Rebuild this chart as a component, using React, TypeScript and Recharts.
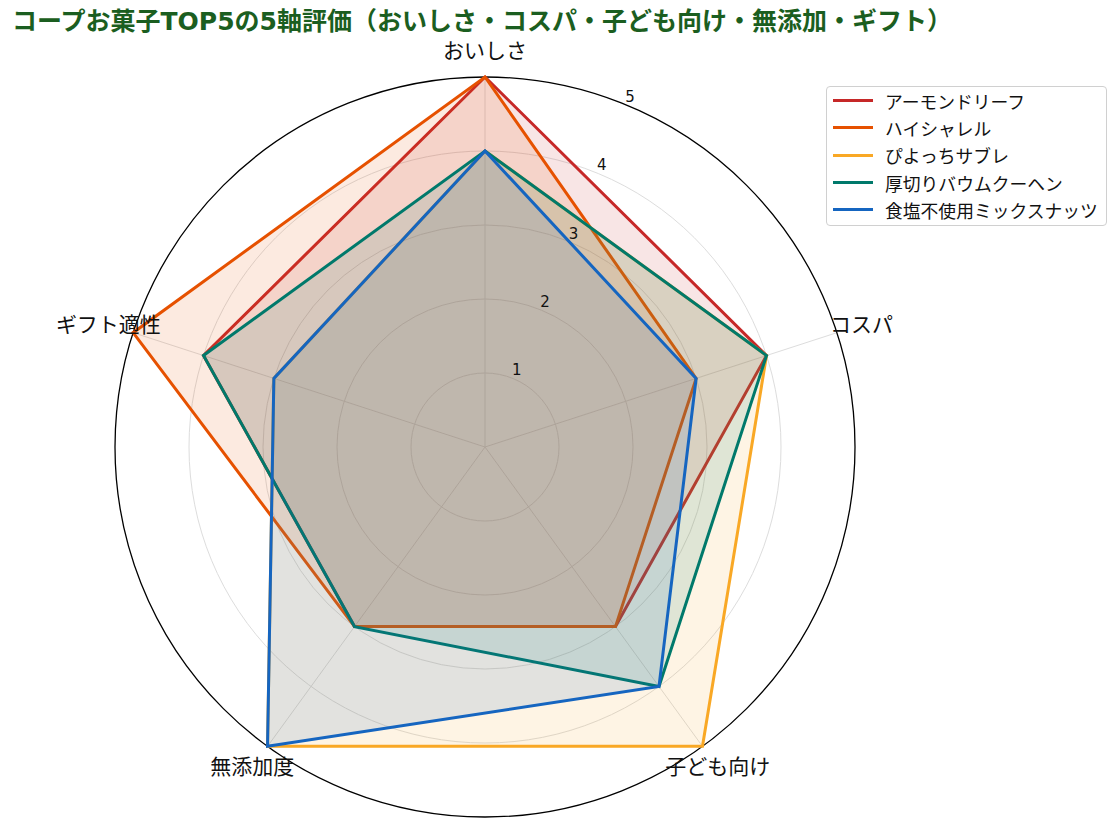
import React from 'react';
import { RadarChart, Radar, PolarGrid, PolarAngleAxis, PolarRadiusAxis } from 'recharts';

// axes (clockwise from the top)
const axes = ['おいしさ', 'コスパ', '子ども向け', '無添加度', 'ギフト適性'];

// scores per product, same order as axes
const almondLeaf = [5, 4, 3, 3, 4];
const highChalet = [5, 3, 3, 3, 5];
const piyocchi = [4, 4, 5, 5, 3];
const baumkuchen = [4, 4, 4, 3, 4];
const mixNuts = [4, 3, 4, 5, 3];

const radiusTicks = [1, 2, 3, 4, 5];

const series = [
  { key: 'almond', name: 'アーモンドリーフ', color: '#c62828', values: almondLeaf },
  { key: 'chalet', name: 'ハイシャレル', color: '#e65100', values: highChalet },
  { key: 'piyo', name: 'ぴよっちサブレ', color: '#f9a825', values: piyocchi },
  { key: 'baum', name: '厚切りバウムクーヘン', color: '#00796b', values: baumkuchen },
  { key: 'nuts', name: '食塩不使用ミックスナッツ', color: '#1565c0', values: mixNuts },
];

const data = axes.map((axis, i) => {
  const row: Record<string, any> = { axis };
  series.forEach(s => { row[s.key] = s.values[i]; });
  return row;
});

const CX = 485;
const CY = 447;
const R = 370;
const FONT = '"DejaVu Sans", "Noto Sans CJK JP", sans-serif';

const AngleTick = (props: any) => {
  const { x, y, payload } = props;
  const dx = x - CX;
  const dy = y - CY;
  const d = Math.sqrt(dx * dx + dy * dy) || 1;
  const tx = CX + (dx / d) * 396;
  const ty = CY + (dy / d) * 396;
  return (
    <text x={tx} y={ty} textAnchor="middle" dominantBaseline="central"
      fontSize={21} fill="#111" fontFamily={FONT}>
      {payload.value}
    </text>
  );
};

const RadiusTick = (props: any) => {
  const { payload } = props;
  const a = (67.5 * Math.PI) / 180;
  const r = payload.value * 74 + 9;
  return (
    <text x={CX + Math.cos(a) * r} y={CY - Math.sin(a) * r} textAnchor="middle"
      dominantBaseline="central" fontSize={15} fill="#111" fontFamily={FONT}>
      {payload.value}
    </text>
  );
};

export default function App() {
  return (
    <div style={{ position: 'absolute', left: 0, top: 0, width: 1120, height: 832, background: '#fff', fontFamily: FONT }}>
      <div style={{ position: 'absolute', left: 12, top: 4, fontSize: 25, lineHeight: '36px', fontWeight: 'bold', color: '#1b5e20', whiteSpace: 'nowrap' }}>
        コープお菓子TOP5の5軸評価（おいしさ・コスパ・子ども向け・無添加・ギフト）
      </div>
      <RadarChart width={1120} height={832} data={data} cx={CX} cy={CY} outerRadius={R}
        margin={{ top: 0, right: 0, bottom: 0, left: 0 }}>
        <PolarGrid gridType="circle" polarRadius={[74, 148, 222, 296]} stroke="#dddddd" strokeWidth={1} />
        <PolarAngleAxis dataKey="axis" tick={<AngleTick />} tickLine={false} axisLine={false} />
        <PolarRadiusAxis angle={67.5} domain={[0, 5]} ticks={radiusTicks} tick={<RadiusTick />}
          axisLine={false} tickCount={6} />
        {series.map(s => (
          <Radar key={s.key} name={s.name} dataKey={s.key} stroke={s.color} strokeWidth={3}
            fill={s.color} fillOpacity={0.12} isAnimationActive={false} dot={false} />
        ))}
        <circle cx={CX} cy={CY} r={R} fill="none" stroke="#000" strokeWidth={1.3} />
      </RadarChart>
      <div style={{
        position: 'absolute', left: 826, top: 86, width: 281, height: 140,
        border: '1px solid #d0d0d0', borderRadius: 4, background: 'rgba(255,255,255,0.85)',
        boxSizing: 'border-box', padding: '0 0 0 6px',
      }}>
        {series.map(s => (
          <div key={s.key} style={{ display: 'flex', alignItems: 'center', height: 27.3 }}>
            <div style={{ width: 40, height: 3, background: s.color, marginRight: 12 }} />
            <span style={{ fontSize: 17.8, color: '#111' }}>{s.name}</span>
          </div>
        ))}
      </div>
    </div>
  );
}
